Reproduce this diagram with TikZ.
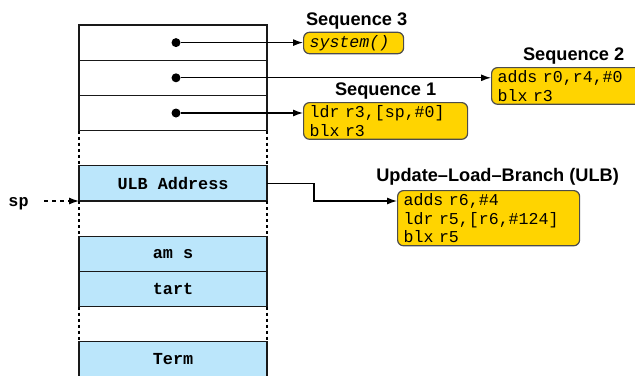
\documentclass[tikz,border=0pt]{standalone}
\usepackage{fontspec}
\setmainfont{Liberation Sans}
\setmonofont{Liberation Mono}
\usetikzlibrary{positioning,arrows.meta}
\definecolor{seqyellow}{RGB}{255,212,0}
\definecolor{stackblue}{RGB}{187,230,251}

\begin{document}
\begin{tikzpicture}[x=0.5pt,y=-0.5pt]

                \tikzset{cell/.style = {draw=black!90, line width=0.55pt, outer sep=0pt, inner sep=0pt, minimum width=94pt, minimum height=17.6pt, font=\ttfamily\bfseries\fontsize{8.4}{10}\selectfont}}
                \tikzset{used/.style = {cell, fill=stackblue}}
                \tikzset{code/.style = {draw=black!70, fill=seqyellow, rounded corners=3pt, line width=0.6pt, align=left, inner xsep=3pt, inner ysep=1.5pt, text width=#1, font=\ttfamily\fontsize{8.3}{9.25}\selectfont}}
                \tikzset{seqlabel/.style = {inner sep=0pt, font=\bfseries\fontsize{9.1}{11}\selectfont}}
                \tikzset{edge/.style = {->, >={Latex[length=5pt,width=3.5pt]}, line width=0.6pt}}
                \tikzset{gap/.style = {dash pattern=on 1.5pt off 1.5pt, line width=0.55pt}}
                \tikzset{dot/.style = {circle, fill, inner sep=0pt, minimum size=4.5pt}}

                \clip (0,0) rectangle (635,375);

                % stack
                \node[cell] (c1) at (173,42.6) {};
                \node[cell, below=0pt of c1] (c2) {};
                \node[cell, below=0pt of c2] (c3) {};
                \node[used, below=17.6pt of c3] (ulb) {ULB Address};
                \node[used, below=17.6pt of ulb] (ams) {am s};
                \node[used, below=0pt of ams] (tart) {tart};
                \node[used, below=17.6pt of tart] (term) {Term};
                \foreach \a/\b in {c3/ulb, ulb/ams, tart/term} {
                    \draw[gap] (\a.south west) -- (\b.north west);
                    \draw[gap] (\a.south east) -- (\b.north east);
                }

                \node[dot] (d1) at ([xshift=1.5pt]c1.center) {};
                \node[dot] (d2) at ([xshift=1.5pt]c2.center) {};
                \node[dot] (d3) at ([xshift=1.5pt]c3.center) {};

                % gadgets
                \node[code=44pt, anchor=west] (seq3) at (303,43) {\itshape system()};
                \node[code=70pt, anchor=north west] (seq2) at (491,67) {adds r0,r4,\#0\\blx r3};
                \node[code=76pt, anchor=north west] (seq1) at (303,102) {ldr r3,[sp,\#0]\\blx r3};
                \node[code=85pt, anchor=north west] (ulbcode) at (397,190) {adds r6,\#4\\ldr r5,[r6,\#124]\\blx r5};

                \node[seqlabel, above=1pt of seq3, xshift=1.5pt] (lbl3) {Sequence 3};
                \node[seqlabel, above=1pt of seq2, xshift=3pt] (lbl2) {Sequence 2};
                \node[seqlabel, above=1pt of seq1] (lbl1) {Sequence 1};
                \node[seqlabel, above=2pt of ulbcode, xshift=4.5pt] (lblulb) {Update–Load–Branch (ULB)};

                \draw[edge] (d1) -- (d1 -| seq3.west);
                \draw[edge] (d2) -- (d2 -| seq2.west);
                \draw[edge] (d3) -- (d3 -| seq1.west);
                \draw[edge] (ulb.east) -- ++(47,0) |- (ulbcode.west |- ulb.south);

                % stack pointer
                \node[inner sep=0pt, font=\ttfamily\bfseries\fontsize{8.4}{10}\selectfont, left=25pt of ulb.south west, yshift=-1.5pt] (sp) {sp};
                \draw[edge, dash pattern=on 2pt off 2pt, shorten <=7.5pt] (sp.east |- ulb.south west) -- (ulb.south west);
            \end{tikzpicture}
\end{document}
